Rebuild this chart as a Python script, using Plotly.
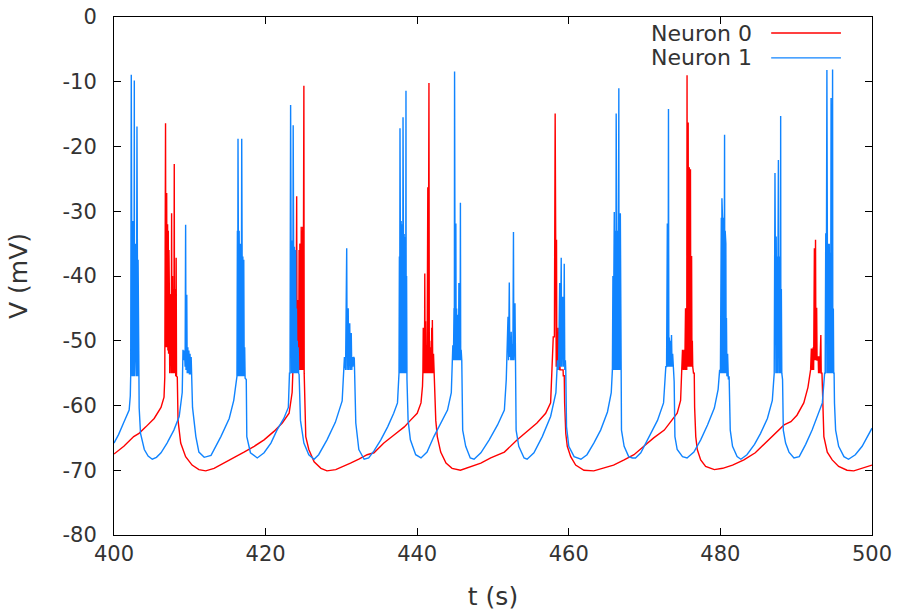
import plotly.graph_objects as go

# ---- data (t in s, V in mV) ----
neuron0_points = [
    (400.0, -67.5), (401.3, -66.3), (402.6, -64.8), (403.3, -64.3), (404.2, -63.3), (405.3, -62.0),
    (406.2, -60.3), (406.6, -58.7), (406.7, -55.6),
    (406.8, -16.4), (406.85, -51.0), (406.95, -27.2), (407.0, -51.0), (407.07, -32.0), (407.11, -51.5),
    (407.16, -33.0), (407.2, -52.0), (407.25, -36.0), (407.3, -41.7), (407.35, -55.0), (407.42, -45.0),
    (407.5, -42.8), (407.55, -55.0), (407.6, -30.3), (407.65, -55.0), (407.72, -40.0), (407.78, -55.0),
    (407.85, -42.0), (407.9, -55.0), (407.95, -22.7), (407.99, -55.0), (408.05, -42.0), (408.1, -42.8),
    (408.14, -55.5), (408.2, -37.2), (408.25, -55.5), (408.35, -55.6),
    (408.45, -62.3), (408.6, -63.8), (408.8, -65.8), (409.45, -67.9), (410.3, -69.2), (411.2, -69.9),
    (412.1, -70.1), (413.2, -69.7), (414.5, -68.9), (415.8, -68.1), (417.15, -67.2), (418.5, -66.3),
    (419.8, -65.3), (421.1, -64.0), (422.2, -62.7), (423.1, -61.2), (423.5, -58.0), (423.65, -53.0),
    (423.7, -41.0), (423.75, -54.0), (423.82, -41.0), (423.88, -54.0), (423.95, -45.0), (424.0, -54.0),
    (424.1, -27.7), (424.15, -54.0), (424.2, -43.7), (424.25, -54.0), (424.3, -43.7), (424.36, -54.5),
    (424.42, -36.0), (424.47, -54.5), (424.52, -35.0), (424.56, -54.5), (424.6, -35.2), (424.64, -54.5),
    (424.7, -32.4), (424.74, -54.5), (424.8, -33.0), (424.84, -54.5), (424.9, -32.4), (424.95, -54.5),
    (425.05, -10.6), (425.09, -55.0), (425.15, -58.0),
    (425.3, -64.8), (425.7, -66.8), (426.4, -68.7), (427.3, -69.7), (428.1, -70.1), (429.25, -69.9),
    (430.3, -69.4), (431.2, -68.9), (432.3, -68.3), (433.4, -67.6), (434.3, -67.3), (435.6, -65.8),
    (436.9, -64.6), (438.3, -63.3), (439.1, -62.3), (440.0, -61.2), (440.5, -59.6), (440.7, -57.0),
    (440.75, -55.0), (440.8, -48.0), (440.86, -55.0), (440.92, -48.0), (440.96, -55.0), (441.0, -39.6),
    (441.05, -55.0), (441.1, -47.0), (441.15, -55.0), (441.25, -50.7), (441.3, -55.0), (441.4, -26.3),
    (441.45, -55.0), (441.55, -10.2), (441.6, -55.0), (441.65, -50.0), (441.7, -55.0), (441.8, -51.0),
    (441.85, -55.0), (441.92, -48.0), (441.96, -55.0), (442.0, -46.8), (442.06, -55.0), (442.15, -52.0),
    (442.22, -55.0), (442.3, -56.0),
    (442.45, -62.3), (442.65, -64.8), (443.1, -67.2), (443.8, -68.9), (444.6, -69.7), (445.7, -70.0),
    (447.0, -69.5), (448.4, -68.9), (449.7, -68.1), (451.5, -67.2), (453.2, -65.3), (454.5, -64.0),
    (455.8, -62.7), (456.95, -61.2), (457.6, -59.6), (457.95, -49.4),
    (458.1, -49.4), (458.2, -14.9), (458.25, -54.0), (458.3, -34.4), (458.34, -54.0), (458.38, -34.4),
    (458.42, -54.0), (458.46, -36.0), (458.5, -50.7), (458.55, -54.5), (458.6, -48.0), (458.65, -51.0),
    (458.7, -54.5), (458.78, -52.0), (458.85, -54.5), (458.95, -54.5), (459.25, -54.5), (459.27, -55.4),
    (459.4, -55.4), (459.45, -59.6),
    (459.6, -64.3), (459.8, -66.3), (460.25, -67.9), (460.9, -69.2), (462.0, -70.0), (463.3, -70.1),
    (464.6, -69.7), (465.9, -69.2), (467.3, -68.4), (468.6, -67.6), (469.9, -66.3), (471.2, -65.0),
    (472.6, -63.8), (473.45, -62.5), (474.3, -61.2), (474.75, -59.2), (474.9, -54.5),
    (475.0, -51.4), (475.1, -54.5), (475.2, -51.4), (475.3, -54.5), (475.4, -45.0), (475.47, -54.5),
    (475.52, -45.0), (475.56, -54.5), (475.6, -9.0), (475.64, -54.0), (475.7, -20.0), (475.75, -16.3),
    (475.8, -54.0), (475.85, -23.5), (475.9, -23.2), (475.95, -54.0), (476.0, -25.0), (476.05, -23.5),
    (476.1, -54.0), (476.15, -37.0), (476.2, -37.0), (476.25, -54.0), (476.3, -50.0), (476.35, -54.0),
    (476.45, -55.0), (476.55, -55.0), (476.6, -60.3),
    (476.75, -64.8), (476.95, -66.8), (477.4, -68.4), (478.05, -69.4), (479.2, -69.9), (480.3, -69.7),
    (481.6, -69.2), (483.1, -68.4), (484.6, -67.3), (485.75, -66.0), (487.1, -64.6), (488.4, -63.0),
    (489.3, -62.5), (490.1, -61.5), (491.0, -59.6), (491.55, -57.2), (491.9, -54.5),
    (492.0, -51.2), (492.05, -54.5), (492.1, -51.2), (492.17, -54.5), (492.25, -51.0), (492.3, -54.5),
    (492.4, -35.7), (492.45, -53.0), (492.5, -36.0), (492.55, -34.4), (492.6, -53.0), (492.65, -44.9),
    (492.7, -44.9), (492.75, -53.0), (492.85, -53.0), (492.9, -52.4), (492.95, -55.0), (493.05, -52.4),
    (493.1, -55.0), (493.25, -49.1), (493.3, -55.0), (493.4, -55.0), (493.5, -61.2),
    (493.65, -64.8), (494.1, -67.2), (494.75, -68.4), (495.6, -69.4), (496.7, -70.0), (497.6, -70.1),
    (498.7, -69.7), (500.0, -69.2),
]

neuron1_points = [
    (400.0, -65.8), (400.6, -64.5), (401.3, -62.6), (402.0, -60.7), (402.15, -58.5),
    (402.2, -55.5), (402.28, -8.9), (402.31, -55.5), (402.35, -32.0), (402.39, -55.5), (402.43, -33.0),
    (402.47, -55.5), (402.51, -31.5), (402.55, -55.0), (402.59, -33.5), (402.63, -55.5), (402.68, -9.8),
    (402.71, -55.5), (402.75, -34.0), (402.79, -51.0), (402.83, -35.0), (402.87, -55.5), (402.91, -36.3),
    (402.95, -55.5), (403.03, -16.9), (403.06, -55.5), (403.1, -36.5), (403.14, -55.5), (403.18, -37.5),
    (403.22, -55.6), (403.27, -55.6),
    (403.32, -60.4), (403.5, -64.3), (404.0, -66.8), (404.5, -67.8), (405.05, -68.3), (405.6, -68.0),
    (406.2, -67.3), (407.0, -65.8), (407.9, -63.8), (408.6, -61.7), (409.0, -58.0), (409.1, -51.4),
    (409.2, -53.0), (409.3, -51.5), (409.38, -54.0), (409.45, -32.1), (409.5, -54.5), (409.6, -42.9),
    (409.66, -55.0), (409.74, -51.0), (409.8, -55.0), (409.88, -51.5), (409.95, -55.2), (410.03, -52.0),
    (410.1, -55.2), (410.18, -52.5), (410.26, -55.3), (410.32, -55.6),
    (410.36, -60.3), (410.8, -64.8), (411.2, -67.2), (411.9, -68.0), (412.8, -67.7), (414.1, -64.8),
    (415.2, -62.0), (415.8, -59.2), (416.1, -56.5),
    (416.22, -55.5), (416.28, -33.0), (416.31, -55.5), (416.36, -18.8), (416.39, -55.5), (416.43, -32.0),
    (416.47, -55.5), (416.51, -33.0), (416.55, -55.5), (416.59, -33.5), (416.63, -55.5), (416.67, -35.0),
    (416.71, -55.5), (416.75, -36.0), (416.79, -55.5), (416.85, -18.8), (416.88, -55.5), (416.92, -37.0),
    (416.96, -55.5), (417.0, -37.0), (417.04, -55.5), (417.12, -37.5), (417.18, -55.5), (417.24, -51.0),
    (417.3, -55.8), (417.45, -56.0),
    (417.52, -64.8), (418.0, -67.3), (418.9, -68.1), (419.8, -67.3), (420.7, -65.8), (421.5, -63.8),
    (422.4, -62.0), (423.0, -60.3), (423.15, -55.0),
    (423.22, -55.0), (423.3, -13.6), (423.33, -55.0), (423.38, -34.0), (423.42, -55.0), (423.46, -34.5),
    (423.5, -55.0), (423.54, -35.0), (423.58, -55.0), (423.64, -16.7), (423.68, -55.0), (423.72, -35.0),
    (423.76, -55.0), (423.8, -35.5), (423.84, -55.0), (423.88, -36.0), (423.92, -55.0), (423.97, -36.0),
    (424.02, -55.0), (424.07, -45.0), (424.12, -55.0), (424.18, -50.0), (424.24, -55.0), (424.3, -51.0),
    (424.36, -55.0), (424.42, -55.2),
    (424.6, -62.3), (425.05, -65.8), (425.7, -67.6), (426.4, -68.3), (427.0, -67.6), (428.1, -65.3),
    (429.2, -62.6), (430.1, -59.3), (430.4, -52.5),
    (430.55, -54.5), (430.7, -35.7), (430.76, -54.5), (430.9, -45.0), (430.96, -54.5), (431.03, -51.5),
    (431.1, -47.3), (431.17, -54.5), (431.23, -52.0), (431.3, -48.8), (431.37, -54.5), (431.45, -52.5),
    (431.52, -54.0), (431.6, -52.5), (431.7, -52.7),
    (431.9, -62.7), (432.3, -66.8), (433.0, -68.3), (433.6, -68.1), (434.3, -67.0), (435.2, -65.3),
    (436.1, -63.3), (436.9, -61.2), (437.4, -59.6), (437.6, -55.0),
    (437.65, -37.0), (437.69, -55.0), (437.73, -17.2), (437.76, -55.0), (437.8, -31.5), (437.84, -55.0),
    (437.88, -31.5), (437.92, -55.0), (437.96, -32.0), (438.0, -55.0), (438.04, -32.0), (438.08, -55.0),
    (438.13, -15.5), (438.16, -55.0), (438.2, -33.0), (438.24, -55.0), (438.28, -33.5), (438.32, -55.0),
    (438.36, -33.5), (438.4, -55.0), (438.44, -34.0), (438.48, -55.0), (438.52, -11.4), (438.55, -55.0),
    (438.6, -40.0), (438.65, -56.0),
    (438.8, -62.3), (439.1, -65.3), (439.8, -67.6), (440.5, -68.1), (441.3, -67.2), (442.2, -64.8),
    (443.1, -62.7), (444.0, -60.7), (444.5, -58.0), (444.7, -50.7),
    (444.78, -53.0), (444.86, -45.0), (444.9, -53.0), (444.93, -8.4), (444.96, -53.0), (445.0, -45.0),
    (445.04, -53.0), (445.1, -31.9), (445.14, -53.0), (445.2, -45.0), (445.25, -53.0), (445.3, -46.0),
    (445.35, -53.0), (445.4, -46.0), (445.45, -53.0), (445.5, -41.1), (445.55, -53.0), (445.62, -46.0),
    (445.66, -53.0), (445.7, -28.7), (445.74, -53.0), (445.8, -51.4), (445.88, -53.0),
    (446.0, -63.8), (446.4, -66.3), (447.0, -68.1), (447.5, -68.3), (448.4, -67.3), (449.5, -65.3),
    (450.6, -63.0), (451.5, -60.7), (451.75, -56.0),
    (451.85, -53.0), (451.98, -46.3), (452.05, -53.0), (452.15, -41.0), (452.22, -52.5), (452.3, -50.5),
    (452.35, -53.0), (452.4, -48.6), (452.47, -53.0), (452.55, -50.5), (452.62, -53.0), (452.7, -33.2),
    (452.75, -53.0), (452.83, -51.0), (452.9, -44.2), (452.96, -53.0), (453.0, -53.0),
    (453.05, -63.8), (453.4, -66.3), (454.1, -68.1), (454.5, -68.3), (455.4, -67.3), (456.5, -64.8),
    (457.6, -61.7), (458.3, -58.0), (458.5, -53.0),
    (458.65, -54.5), (458.8, -41.1), (458.87, -54.0), (459.0, -37.2), (459.06, -54.0), (459.12, -50.0),
    (459.2, -43.2), (459.27, -54.0), (459.34, -52.0), (459.4, -38.1), (459.47, -54.5), (459.55, -53.0),
    (459.6, -54.5),
    (459.7, -63.3), (460.0, -66.3), (460.7, -67.9), (461.6, -68.3), (462.4, -67.6), (463.3, -65.8),
    (464.2, -63.8), (465.1, -61.0), (465.6, -58.0), (465.75, -54.5),
    (465.82, -40.0), (465.86, -54.5), (465.9, -39.8), (465.94, -54.5), (466.0, -30.1), (466.04, -54.5),
    (466.08, -35.0), (466.12, -54.5), (466.16, -33.0), (466.2, -54.5), (466.25, -14.9), (466.28, -54.5),
    (466.32, -33.0), (466.36, -54.5), (466.4, -33.0), (466.44, -54.5), (466.48, -34.0), (466.52, -54.5),
    (466.6, -11.0), (466.63, -54.5), (466.68, -35.0), (466.72, -54.5), (466.8, -30.3), (466.84, -55.8),
    (466.95, -63.8), (467.3, -66.3), (467.9, -67.9), (468.4, -68.1), (468.8, -68.1), (469.5, -67.3),
    (470.6, -64.8), (471.7, -62.3), (472.5, -59.6), (472.8, -54.0),
    (472.9, -54.0), (473.0, -31.9), (473.05, -54.0), (473.1, -50.0), (473.15, -14.2), (473.2, -54.0),
    (473.26, -49.5), (473.3, -50.7), (473.35, -54.0), (473.41, -50.0), (473.47, -54.0), (473.55, -49.1),
    (473.62, -54.0), (473.7, -52.0), (473.8, -54.0), (473.9, -56.3),
    (474.0, -64.8), (474.3, -66.8), (475.0, -67.9), (475.6, -68.1), (476.5, -67.2), (477.4, -65.3),
    (478.3, -63.0), (479.2, -60.4), (479.7, -57.5), (479.9, -54.5),
    (480.0, -55.0), (480.03, -35.5), (480.07, -55.0), (480.12, -31.0), (480.16, -55.0), (480.2, -28.0),
    (480.24, -55.0), (480.28, -31.0), (480.32, -55.0), (480.36, -31.0), (480.4, -55.0), (480.44, -32.0),
    (480.48, -55.0), (480.55, -18.2), (480.58, -55.0), (480.63, -33.0), (480.67, -55.0), (480.72, -35.0),
    (480.76, -55.0), (480.8, -46.5), (480.86, -55.5), (480.95, -52.0), (481.05, -56.0), (481.15, -55.5),
    (481.3, -63.8), (481.6, -66.3), (482.2, -67.9), (482.7, -68.3), (483.5, -67.6), (484.5, -66.0),
    (485.3, -64.3), (486.2, -62.0), (486.85, -59.2), (487.05, -55.0),
    (487.1, -55.0), (487.2, -24.1), (487.24, -55.0), (487.28, -41.8), (487.32, -55.0), (487.36, -33.9),
    (487.4, -55.0), (487.44, -36.0), (487.48, -55.0), (487.52, -37.0), (487.56, -55.0), (487.6, -36.0),
    (487.65, -22.1), (487.68, -55.0), (487.72, -38.0), (487.76, -55.0), (487.8, -37.0), (487.84, -55.0),
    (487.88, -40.0), (487.92, -55.0), (487.95, -15.3), (487.98, -55.0), (488.04, -42.0), (488.1, -55.0),
    (488.2, -56.0),
    (488.3, -63.8), (488.6, -65.8), (489.05, -67.2), (489.7, -68.1), (490.4, -67.9), (491.25, -66.0),
    (492.1, -63.8), (493.0, -61.2), (493.45, -59.6), (493.75, -55.0),
    (493.82, -55.0), (493.9, -33.4), (493.95, -55.0), (494.05, -8.2), (494.08, -55.0), (494.12, -34.0),
    (494.16, -55.0), (494.2, -35.0), (494.24, -55.0), (494.28, -36.4), (494.32, -55.0), (494.36, -35.0),
    (494.4, -55.0), (494.44, -36.0), (494.48, -55.0), (494.5, -36.4), (494.54, -55.0), (494.6, -12.5),
    (494.63, -55.0), (494.68, -38.0), (494.72, -55.0), (494.8, -8.1), (494.83, -55.0), (494.9, -45.0),
    (494.95, -55.0), (495.0, -55.0),
    (495.05, -59.6), (495.2, -63.8), (495.6, -66.3), (496.3, -67.9), (496.9, -68.3), (497.8, -67.6),
    (498.7, -66.3), (499.6, -64.3), (500.0, -63.5),
]

series_names = ["Neuron 0", "Neuron 1"]
series_colors = ["#ff0000", "#1084ff"]
x_ticks = [400, 420, 440, 460, 480, 500]
y_ticks = [0, -10, -20, -30, -40, -50, -60, -70, -80]

FONT = "DejaVu Sans"
FS = 21
TXT = "#333333"

fig = go.Figure()
for name, pts, col in zip(series_names, [neuron0_points, neuron1_points], series_colors):
    t = [p[0] for p in pts]
    v = [p[1] for p in pts]
    fig.add_trace(go.Scatter(x=t, y=v, mode="lines", name=name,
                             line=dict(color=col, width=1.4), showlegend=False))

fig.update_layout(
    width=899, height=611,
    margin=dict(l=114, r=27, t=17, b=76),
    paper_bgcolor="white", plot_bgcolor="white",
    font=dict(family=FONT, size=FS, color=TXT),
    xaxis=dict(range=[400, 500], tickvals=x_ticks, ticktext=[str(v) for v in x_ticks],
               showline=True, linecolor="black", linewidth=1, mirror="ticks",
               ticks="inside", ticklen=7, tickcolor="black", showgrid=False, zeroline=False,
               ticklabelstandoff=0, automargin=False,
               title=dict(text="t (s)", standoff=22)),
    yaxis=dict(range=[-80, 0], tickvals=y_ticks, ticktext=[str(v) for v in y_ticks],
               showline=True, linecolor="black", linewidth=1, mirror="ticks",
               ticks="inside", ticklen=7, tickcolor="black", showgrid=False, zeroline=False,
               ticklabelstandoff=12, automargin=False,
               title=dict(text="V (mV)", standoff=27)),
)

# gnuplot-style key: text then line sample, top-right inside
key_rows = [(0.969, series_names[0], series_colors[0]), (0.921, series_names[1], series_colors[1])]
for yk, name, col in key_rows:
    fig.add_annotation(xref="paper", yref="paper", x=0.844, y=yk, text=name, showarrow=False,
                       xanchor="right", yanchor="middle", font=dict(family=FONT, size=22, color=TXT))
    fig.add_shape(type="line", xref="paper", yref="paper", x0=0.867, x1=0.959, y0=yk, y1=yk,
                  line=dict(color=col, width=1.4))

fig.write_html("out.html", config={"displayModeBar": False},
               post_script="document.body.style.margin='0';document.body.style.padding='0';")
